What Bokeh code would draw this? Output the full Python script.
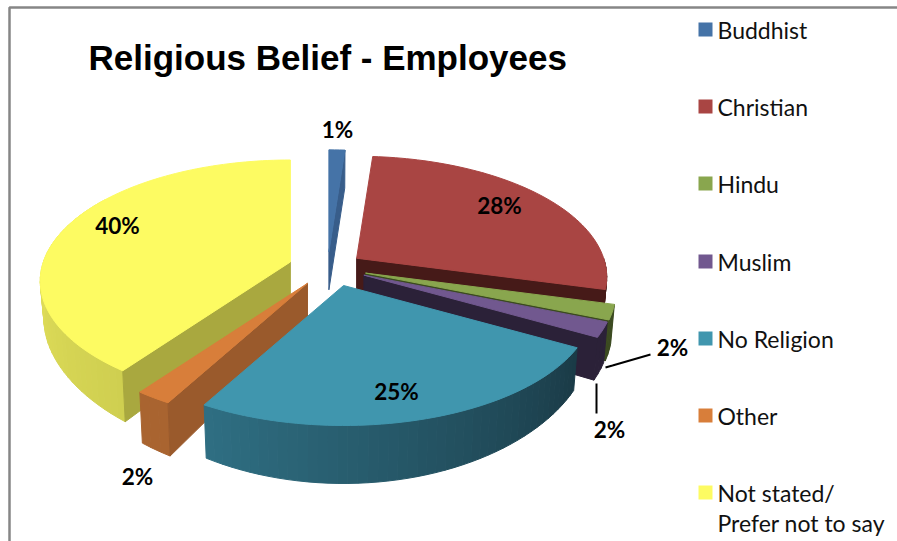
import math
from bokeh.plotting import figure
from bokeh.models import Range1d
from bokeh.core.properties import value
from bokeh.embed import file_html
from bokeh.resources import INLINE

# ---- data ----
categories = ["Buddhist", "Christian", "Hindu", "Muslim", "No Religion", "Other", "Not stated/\nPrefer not to say"]
shares = [1.2, 27.9, 2, 2, 25, 2, 39.9]
top_colors = ["#4573a7", "#a94543", "#89a64e", "#71588f", "#4096ae", "#d87e3a", "#fdfb62"]
cut_colors = ["#385d8a", "#461a18", "#3b4a20", "#2b2138", "#1a3a46", "#9a5a2c", "#a9a83f"]
rim_start = ["#385d8a", "#461a18", "#3b4a20", "#2b2138", "#1a3a46", "#a96430", "#cfcf50"]
rim_end = ["#385d8a", "#461a18", "#3b4a20", "#2b2138", "#2f6f83", "#a96430", "#ece85f"]

# ---- projection of the exploded 3-D pie ----
CX, CY = 328, 270
R, A, K, EXPLODE = 247, 118, 0.157, 37
BASE_DEPTH, FRONT_DEPTH, SHRINK = 38, 20, 0.985
nudge_x = [-1, -2, 2, 2, 5, -1, -3]
nudge_y = [-1, -2, -3, -3, -2, -2, -3]


def blend(c1, c2, t):
    a = [int(c1[i:i + 2], 16) for i in (1, 3, 5)]
    b = [int(c2[i:i + 2], 16) for i in (1, 3, 5)]
    return "#%02x%02x%02x" % tuple(round(x + (y - x) * t) for x, y in zip(a, b))


def rim(theta):
    u, v = math.sin(theta), -math.cos(theta)
    s = 1 / (1 - K * v)
    return R * u * s, A * v * s, BASE_DEPTH + FRONT_DEPTH * max(v, 0) ** 2


edges = [0]
for s_ in shares:
    edges.append(edges[-1] + s_ / sum(shares) * 2 * math.pi)

xs, ys, fills = [], [], []


def add(pts, col):
    xs.append([q[0] for q in pts])
    ys.append([q[1] for q in pts])
    fills.append(col)


draw_order = [6, 0, 1, 2, 3, 5, 4]
for i in draw_order:
    a0, a1 = edges[i], edges[i + 1]
    mid = (a0 + a1) / 2
    bx = CX + EXPLODE * math.sin(mid) + nudge_x[i]
    by = CY - EXPLODE * A / R * math.cos(mid) + nudge_y[i]

    def top(t):
        x, y, _ = rim(t)
        return bx + x, by + y

    def bot(t):
        x, y, d = rim(t)
        return bx + x * SHRINK, by + y + d

    apex, apex_b = (bx, by), (bx, by + BASE_DEPTH)
    # outer wall, in thin shaded strips
    lo, hi = max(a0, math.pi / 2), min(a1, math.radians(305))
    if hi > lo:
        n = max(2, int((hi - lo) / math.radians(2)))
        for j in range(n):
            t0 = lo + (hi - lo) * j / n
            t1 = lo + (hi - lo) * (j + 1) / n
            add([top(t0), top(t1), bot(t1), bot(t0)], blend(rim_start[i], rim_end[i], min(1, (j + .5) / n)))
    # radial cut faces that turn toward the viewer
    if math.sin(a1) > 0.001:
        add([apex, top(a1), bot(a1), apex_b], cut_colors[i])
    if -math.sin(a0) > 0.001:
        add([apex, top(a0), bot(a0), apex_b], cut_colors[i])
    # top face
    n = max(3, int((a1 - a0) / math.radians(1.5)))
    add([apex] + [top(a0 + (a1 - a0) * j / n) for j in range(n + 1)], top_colors[i])

p = figure(width=897, height=541, output_backend="svg", toolbar_location=None,
           x_range=Range1d(0, 897), y_range=Range1d(541, 0), min_border=0)
p.axis.visible = False
p.xgrid.visible = False
p.ygrid.visible = False
p.outline_line_color = None
p.background_fill_color = "white"

# chart frame
p.line([9, 9, 897], [541, 7, 7], line_color="#868686", line_width=2.5)

p.patches(xs, ys, fill_color=fills, line_color=fills, line_width=1)

# leader lines
p.line([596, 596], [383, 413], line_color="black", line_width=2)
p.line([605, 612, 650], [367, 365, 354], line_color="black", line_width=2)

# title
p.text([88], [57], text=["Religious Belief - Employees"], text_font=value("Liberation Sans"),
       text_font_style="bold", text_font_size="35px", text_color="black", text_baseline="middle")

# percentage labels, in slice order plus the two outside ones
label_text = ["1%", "28%", "2%", "2%", "25%", "2%", "40%"]
label_x = [337, 499, 672, 609, 396, 137, 117]
label_y = [129, 205, 347, 429, 391, 476, 225]
p.text(label_x, label_y, text=label_text, text_font=value("Lato"), text_font_style="bold",
       text_font_size="22.5px", text_color="black", text_align="center", text_baseline="middle")

# legend
legend_y = [29, 106, 183, 261, 338, 415, 492]
legend_colors = ["#4573a7", "#a94543", "#89a64e", "#71588f", "#4096ae", "#d87e3a", "#fdfb62"]
p.quad(left=[698] * 7, right=[712] * 7, top=[y - 7 for y in legend_y], bottom=[y + 7 for y in legend_y],
       fill_color=legend_colors, line_color=None)
rows_x, rows_y, rows_t = [], [], []
for name, y in zip(categories, legend_y):
    for k, part in enumerate(name.split("\n")):
        rows_x.append(717)
        rows_y.append(y + k * 30)
        rows_t.append(part)
p.text(rows_x, rows_y, text=rows_t, text_font=value("Lato"), text_font_size="23px",
       text_color="#111111", text_baseline="middle")

open("out.html", "w").write(file_html(p, INLINE))
